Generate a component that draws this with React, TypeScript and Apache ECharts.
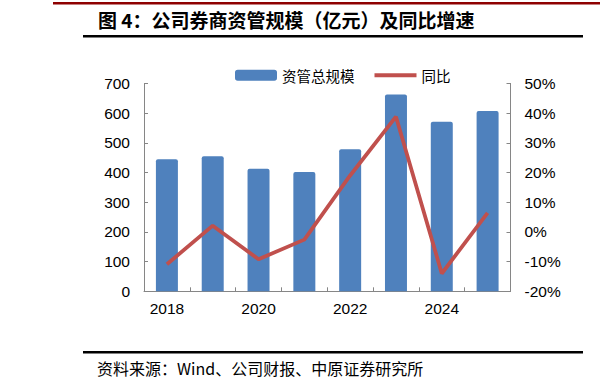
import React, { useEffect, useRef } from "react";
import * as echarts from "echarts";

const years = ["2018", "2019", "2020", "2021", "2022", "2023", "2024", "2025"];
const scaleValues = [445, 455, 413, 402, 478, 663, 571, 607];
const yoyValues = [-10.9, 2.1, -9.2, -2.6, 19.0, 38.8, -14.0, 6.4];
const seriesNames = ["资管总规模", "同比"];
const titleText = "图 4：公司券商资管规模（亿元）及同比增速";
const sourceText = "资料来源：Wind、公司财报、中原证券研究所";

const latin = "'Liberation Sans', Arial, sans-serif";
const cjk = "'Noto Sans CJK SC', 'Liberation Sans', sans-serif";

export default function App() {
  const ref = useRef<HTMLDivElement>(null);
  useEffect(() => {
    document.body.style.margin = "0";
    const chart = echarts.init(ref.current!, null, { renderer: "svg" });
    chart.setOption({
      animation: false,
      backgroundColor: "#fff",
      textStyle: { fontFamily: latin },
      grid: { left: 144, right: 89.5, top: 83.4, bottom: 97.7, containLabel: false },
      legend: {
        left: 230,
        top: 63,
        itemWidth: 42,
        itemHeight: 11,
        itemGap: 18,
        textStyle: { fontSize: 14.5, color: "#000", fontFamily: cjk },
        data: [
          { name: seriesNames[0], icon: "roundRect" },
          { name: seriesNames[1], itemStyle: { opacity: 0 }, lineStyle: { width: 4, color: "#C0504D" } },
        ],
      },
      xAxis: {
        type: "category",
        data: years,
        boundaryGap: true,
        axisLine: { lineStyle: { color: "#868686", width: 1 } },
        axisTick: { show: true, inside: true, length: 4, interval: 0, lineStyle: { color: "#868686" } },
        axisLabel: { interval: 1, fontSize: 15.5, color: "#000", margin: 9 },
        splitLine: { show: false },
      },
      yAxis: [
        {
          type: "value",
          min: 0,
          max: 700,
          interval: 100,
          axisLine: { show: true, lineStyle: { color: "#868686", width: 1 } },
          axisTick: { show: true, inside: true, length: 4, lineStyle: { color: "#868686" } },
          axisLabel: { fontSize: 15.5, color: "#000", margin: 14 },
          splitLine: { show: false },
        },
        {
          type: "value",
          min: -20,
          max: 50,
          interval: 10,
          position: "right",
          axisLine: { show: true, lineStyle: { color: "#868686", width: 1 } },
          axisTick: { show: true, inside: true, length: 4, lineStyle: { color: "#868686" } },
          axisLabel: { fontSize: 15.5, color: "#000", margin: 14, formatter: "{value}%" },
          splitLine: { show: false },
        },
      ],
      series: [
        {
          name: seriesNames[0],
          type: "bar",
          data: scaleValues,
          barWidth: "48%",
          itemStyle: { color: "#4F81BD", borderRadius: [2, 2, 0, 0] },
          yAxisIndex: 0,
        },
        {
          name: seriesNames[1],
          type: "line",
          data: yoyValues,
          yAxisIndex: 1,
          showSymbol: false,
          symbol: "none",
          lineStyle: { color: "#C0504D", width: 3.8 },
          itemStyle: { color: "#C0504D" },
        },
      ],
      graphic: [
        { type: "rect", shape: { x: 53, y: 2, width: 547, height: 2.5 }, style: { fill: "#8E0000" } },
        {
          type: "text",
          x: 98,
          y: 10,
          style: { text: titleText, font: `bold 19px ${cjk}`, fill: "#000" },
        },
        { type: "rect", shape: { x: 83, y: 35, width: 500, height: 2.5 }, style: { fill: "#000" } },
        { type: "rect", shape: { x: 83, y: 351, width: 500, height: 2.5 }, style: { fill: "#000" } },
        {
          type: "text",
          x: 97,
          y: 360,
          style: { text: sourceText, font: `16px ${cjk}`, fill: "#000" },
        },
      ],
    });
    return () => chart.dispose();
  }, []);
  return <div ref={ref} style={{ position: "absolute", left: 0, top: 0, width: 600, height: 389 }} />;
}
